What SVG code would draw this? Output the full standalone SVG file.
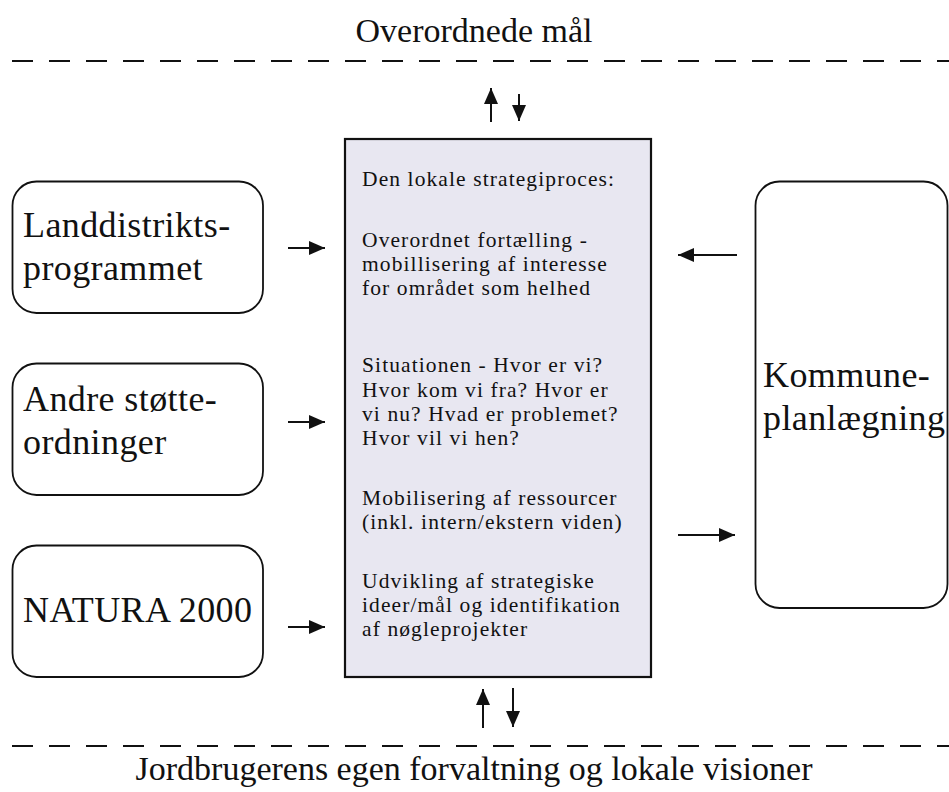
<svg xmlns="http://www.w3.org/2000/svg" width="949" height="792" viewBox="0 0 949 792">
<defs>
<style>
.t{font-family:"Liberation Serif","Times New Roman",serif;fill:#111}
.big{font-size:34px}
.lbl{font-size:36px;letter-spacing:0.4px}
.txt{font-size:21.5px;letter-spacing:1.1px}
.box{fill:#fff;stroke:#111;stroke-width:1.8}
.main{fill:#E8E7F1;stroke:#111;stroke-width:2.2}
.dash{stroke:#111;stroke-width:2;stroke-dasharray:21 16;fill:none}
.arr{stroke:#111;stroke-width:2;fill:none;marker-end:url(#ah)}
</style>
<marker id="ah" markerUnits="userSpaceOnUse" markerWidth="17" markerHeight="15" refX="16" refY="7.5" orient="auto">
<path d="M0,0.5 L16,7.5 L0,14.5 z" fill="#111"/>
</marker>
</defs>
<rect width="949" height="792" fill="#fff"/>
<g id="top-label"><text class="t big" x="474" y="42" text-anchor="middle">Overordnede mål</text></g>
<g id="bottom-label"><text class="t big" x="474" y="780" text-anchor="middle">Jordbrugerens egen forvaltning og lokale visioner</text></g>
<g id="dividers">
<line class="dash" x1="12" y1="61" x2="949" y2="61"/>
<line class="dash" x1="12" y1="746" x2="949" y2="746"/>
</g>
<g id="landdistrikt">
<rect class="box" x="12.5" y="181.5" width="250.5" height="131.5" rx="24"/>
<text class="t lbl" x="23" y="237">Landdistrikts-</text>
<text class="t lbl" x="23" y="280">programmet</text>
</g>
<g id="andre">
<rect class="box" x="12.5" y="363.5" width="250.5" height="131.5" rx="24"/>
<text class="t lbl" x="23" y="411">Andre støtte-</text>
<text class="t lbl" x="23" y="454">ordninger</text>
</g>
<g id="natura">
<rect class="box" x="12.5" y="545.5" width="250.5" height="131.5" rx="24"/>
<text class="t lbl" x="23" y="622">NATURA 2000</text>
</g>
<g id="kommune">
<rect class="box" x="755.5" y="181.5" width="192" height="426.5" rx="24"/>
<text class="t lbl" x="763" y="387">Kommune-</text>
<text class="t lbl" x="763" y="430">planlægning</text>
</g>
<g id="strategiproces">
<rect class="main" x="345" y="139" width="306" height="538"/>
<text class="t txt" x="362">
<tspan x="362" y="186">Den lokale strategiproces:</tspan>
<tspan x="362" y="247">Overordnet fortælling -</tspan>
<tspan x="362" y="271">mobillisering af interesse</tspan>
<tspan x="362" y="295">for området som helhed</tspan>
<tspan x="362" y="372">Situationen - Hvor er vi?</tspan>
<tspan x="362" y="397">Hvor kom vi fra? Hvor er</tspan>
<tspan x="362" y="421">vi nu? Hvad er problemet?</tspan>
<tspan x="362" y="445">Hvor vil vi hen?</tspan>
<tspan x="362" y="505">Mobilisering af ressourcer</tspan>
<tspan x="362" y="529">(inkl. intern/ekstern viden)</tspan>
<tspan x="362" y="588">Udvikling af strategiske</tspan>
<tspan x="362" y="612">ideer/mål og identifikation</tspan>
<tspan x="362" y="636">af nøgleprojekter</tspan>
</text>
</g>
<g id="connectors">
<line class="arr" x1="288" y1="248" x2="325" y2="248"/>
<line class="arr" x1="288" y1="422" x2="325" y2="422"/>
<line class="arr" x1="288" y1="627" x2="325" y2="627"/>
<line class="arr" x1="737" y1="255" x2="678" y2="255"/>
<line class="arr" x1="678" y1="535" x2="735" y2="535"/>
<line class="arr" x1="491" y1="122" x2="491" y2="88"/>
<line class="arr" x1="519" y1="94" x2="519" y2="121"/>
<line class="arr" x1="483" y1="728" x2="483" y2="689"/>
<line class="arr" x1="513" y1="688" x2="513" y2="727"/>
</g>
</svg>
